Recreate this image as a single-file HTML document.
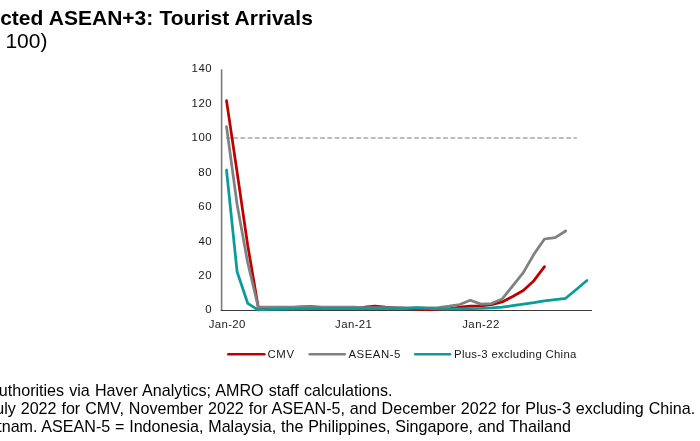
<!DOCTYPE html>
<html lang="en">
<head>
<meta charset="utf-8">
<title>Selected ASEAN+3: Tourist Arrivals</title>
<style>
html,body{margin:0;padding:0;background:#fff;overflow:hidden}
body{width:700px;height:441px;position:relative;font-family:"Liberation Sans",Arial,Helvetica,sans-serif;color:#000}
svg{position:absolute;left:0;top:0;display:block}
text{font-family:"Liberation Sans",Arial,Helvetica,sans-serif;fill:#000;white-space:pre}
.t{font-size:21px;font-weight:bold;word-spacing:0.41px}
.s{font-size:21px}
.f{font-size:16.1px}
.c text{font-size:11.4px;fill:#1a1a1a}
</style>
</head>
<body>
<svg width="700" height="441" viewBox="0 0 700 441">
<rect width="700" height="441" fill="#fff"/>
<!-- heading -->
<text class="t" x="0.2" y="25">cted ASEAN+3: Tourist Arrivals</text>
<text class="s" x="5.4" y="48">100)</text>
<!-- axis labels -->
<g class="c">
<text x="205.2" y="313.4">0</text>
<text x="198.3" y="278.9" style="letter-spacing:0.65px">20</text>
<text x="198.5" y="244.5" style="letter-spacing:0.40px">40</text>
<text x="198.3" y="210.0" style="letter-spacing:0.65px">60</text>
<text x="198.3" y="175.5" style="letter-spacing:0.65px">80</text>
<text x="191.6" y="141.1" style="letter-spacing:0.53px">100</text>
<text x="191.6" y="106.6" style="letter-spacing:0.53px">120</text>
<text x="191.6" y="72.1" style="letter-spacing:0.53px">140</text>
<text x="208.8" y="328.4" style="letter-spacing:0.35px">Jan-20</text>
<text x="335.1" y="328.4" style="letter-spacing:0.40px">Jan-21</text>
<text x="462.2" y="328.4" style="letter-spacing:0.48px">Jan-22</text>
</g>
<!-- axes -->
<line x1="221.6" y1="69.3" x2="221.6" y2="311" stroke="#7a7a7a" stroke-width="1.6"/>
<line x1="220.8" y1="310.5" x2="592" y2="310.5" stroke="#3a3a3a" stroke-width="1.15"/>
<line x1="226.5" y1="138.1" x2="576.3" y2="138.1" stroke="#a6a6a6" stroke-width="1.5" stroke-linecap="round" stroke-dasharray="3.7 3.54"/>
<!-- series -->
<g fill="none" stroke-width="2.75" stroke-linecap="round" stroke-linejoin="round">
<path stroke="#c00000" d="M226.5,100.6 L237.1,172.1 L247.7,245.2 L258.3,307.4 L268.9,307.7 L279.5,307.7 L290.1,307.6 L300.7,306.9 L311.3,306.7 L321.9,307.4 L332.5,307.6 L343.1,307.6 L353.7,307.4 L364.3,307.1 L374.9,306.0 L385.5,307.1 L396.1,307.9 L406.7,308.4 L417.3,309.5 L427.9,309.6 L438.5,309.5 L449.1,308.8 L459.7,307.2 L470.3,306.2 L480.9,306.0 L491.5,304.6 L502.1,301.9 L512.7,296.5 L523.3,290.5 L533.9,280.7 L544.5,266.6"/>
<path stroke="#808080" d="M226.5,126.6 L237.1,204.5 L247.7,262.8 L258.3,307.2 L268.9,307.2 L279.5,307.2 L290.1,307.2 L300.7,307.1 L311.3,307.1 L321.9,307.1 L332.5,307.1 L343.1,307.1 L353.7,307.2 L364.3,307.6 L374.9,307.7 L385.5,307.7 L396.1,307.7 L406.7,307.9 L417.3,307.9 L427.9,307.9 L438.5,307.6 L449.1,306.2 L459.7,304.5 L470.3,300.2 L480.9,304.1 L491.5,303.6 L502.1,299.0 L512.7,285.9 L523.3,272.6 L533.9,254.3 L544.5,239.0 L555.1,237.6 L565.7,231.0"/>
<path stroke="#0a9b9b" d="M226.5,170.0 L237.1,271.7 L247.7,303.3 L258.3,310.0 L268.9,309.5 L279.5,309.1 L290.1,308.9 L300.7,308.8 L311.3,308.6 L321.9,308.6 L332.5,308.6 L343.1,308.6 L353.7,308.6 L364.3,308.6 L374.9,308.6 L385.5,308.6 L396.1,308.6 L406.7,308.3 L417.3,307.7 L427.9,308.3 L438.5,308.8 L449.1,308.8 L459.7,308.8 L470.3,308.6 L480.9,308.4 L491.5,307.9 L502.1,307.1 L512.7,305.7 L523.3,304.1 L533.9,302.7 L544.5,300.8 L555.1,299.6 L565.7,298.3 L576.3,289.5 L586.9,280.5"/>
<path stroke="#c00000" stroke-width="2.6" d="M228.4,354.2 H264.3"/>
<path stroke="#808080" stroke-width="2.6" d="M309.7,354.2 H344.7"/>
<path stroke="#0a9b9b" stroke-width="2.6" d="M415.3,354.2 H450.1"/>
</g>
<!-- legend -->
<g class="c">
<text x="267.5" y="357.7" style="letter-spacing:0.62px">CMV</text>
<text x="348.4" y="357.7" style="letter-spacing:0.53px">ASEAN-5</text>
<text x="454.0" y="357.7" style="letter-spacing:0.28px">Plus-3 excluding China</text>
</g>
<!-- notes -->
<text class="f" x="-1.2" y="395.5" style="word-spacing:0.66px">uthorities via Haver Analytics; AMRO staff calculations.</text>
<text class="f" x="-4.8" y="413.7" style="word-spacing:0.46px">uly 2022 for CMV, November 2022 for ASEAN-5, and December 2022 for Plus-3 excluding China.</text>
<text class="f" x="-2.8" y="432" style="word-spacing:0.31px">tnam. ASEAN-5 = Indonesia, Malaysia, the Philippines, Singapore, and Thailand</text>
</svg>
</body>
</html>
